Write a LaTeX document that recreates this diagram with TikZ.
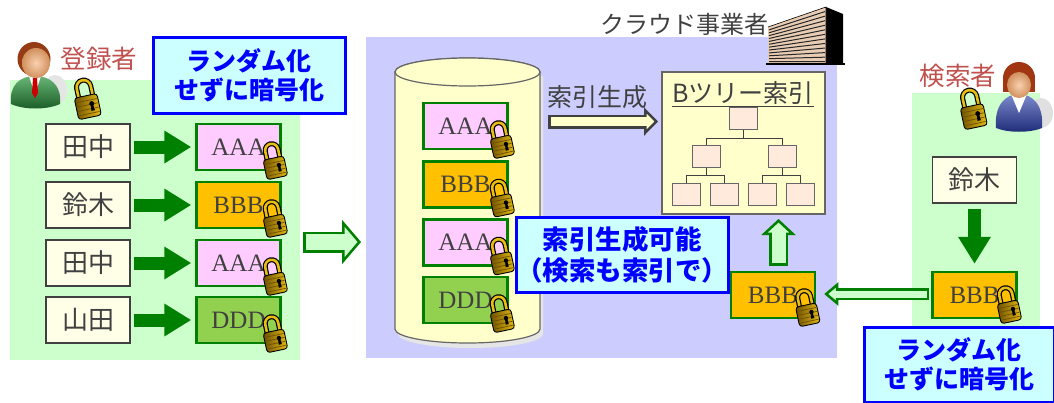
\documentclass[tikz,border=0pt]{standalone}
\usepackage{fontspec}
\setmainfont{Liberation Serif}
\newfontfamily\jp{Noto Sans CJK JP}
\usetikzlibrary{arrows.meta,positioning,calc}

\definecolor{usergreen}{RGB}{204,255,204}
\definecolor{cloudblue}{RGB}{204,204,255}
\definecolor{notefill}{RGB}{204,255,255}
\definecolor{noteblue}{RGB}{0,0,255}
\definecolor{namefill}{RGB}{255,255,232}
\definecolor{arrowgreen}{RGB}{0,128,0}
\definecolor{palegreen}{RGB}{204,255,204}
\definecolor{cipherpink}{RGB}{255,204,255}
\definecolor{cipherorange}{RGB}{255,192,0}
\definecolor{cipherlime}{RGB}{146,208,80}
\definecolor{dbyellow}{RGB}{255,255,204}
\definecolor{treefill}{RGB}{255,234,220}
\definecolor{rolered}{RGB}{192,80,77}
\definecolor{inkgray}{RGB}{64,64,64}
\definecolor{facade}{RGB}{232,205,180}
\definecolor{lockgold}{RGB}{232,190,20}
\definecolor{lockyellow}{RGB}{255,240,120}
\definecolor{lockdark}{RGB}{110,80,0}
\definecolor{skin}{RGB}{245,170,110}
\definecolor{hairbrown}{RGB}{150,60,20}
\definecolor{suitgreen}{RGB}{40,150,60}
\definecolor{suitblue}{RGB}{40,60,170}

\tikzset{
  % small padlock drawn over each encrypted value
  padlock/.pic={
    \draw[line width=5pt, black] (-6.5,0) -- (-6.5,-10) arc[start angle=180, end angle=360, radius=6.5] -- (6.5,0);
    \draw[line width=2.6pt, lockgold] (-6.5,0) -- (-6.5,-10) arc[start angle=180, end angle=360, radius=6.5] -- (6.5,0);
    \shade[left color=lockdark, middle color=lockyellow, right color=lockgold, rounded corners=3pt] (-10.5,-2) rectangle (10.5,18);
    \draw[black, line width=0.9pt, rounded corners=3pt] (-10.5,-2) rectangle (10.5,18);
    \foreach \r in {2.5,6.5,10.5,14.5}
      \draw[lockdark, line width=0.7pt] (-9.5,\r) -- (9.5,\r);
    \fill[black] (4,6) circle[radius=2.2];
    \fill[black] (3,6) -- (5,6) -- (5.6,12.5) -- (2.4,12.5) -- cycle;
  },
  % man in a green suit
  registrant/.pic={
    \fill[black!10] (20,30) ellipse[x radius=12, y radius=15];
    \shade[top color=suitgreen!70!white, bottom color=suitgreen!60!black] (-24,44) .. controls (-26,25) and (-15,16) .. (0,16) .. controls (15,16) and (27,25) .. (25,44) .. controls (12,50) and (-11,50) .. (-24,44) -- cycle;
    \fill[white] (-6,16) -- (6,16) -- (0,34) -- cycle;
    \fill[red!80!black] (-2,18) -- (2,18) -- (3,33) -- (0,38) -- (-3,33) -- cycle;
    \fill[hairbrown] (-1,-1) ellipse[x radius=16.5, y radius=17];
    \shade[inner color=skin!55!white, outer color=skin!85!black] (1,3) ellipse[x radius=14, y radius=15];
  },
  % woman in a blue suit
  searcher/.pic={
    \fill[black!12] (22,31) ellipse[x radius=12, y radius=15];
    \shade[top color=suitblue!60!white, bottom color=suitblue!70!black] (-23,46) .. controls (-25,24) and (-14,12) .. (0,12) .. controls (14,12) and (25,24) .. (23,46) .. controls (11,51) and (-11,51) .. (-23,46) -- cycle;
    \fill[white] (-8,12) -- (8,12) -- (0,31) -- cycle;
    \fill[hairbrown!90!red] (0,-4) ellipse[x radius=16, y radius=16];
    \fill[hairbrown!90!red] (-16,-4) rectangle (16,10);
    \shade[inner color=skin!55!white, outer color=skin!85!black] (0,3) ellipse[x radius=12, y radius=13];
  }
}

\begin{document}
\begin{tikzpicture}[x=1pt,y=-1pt,
    region/.style={anchor=north west, inner sep=0pt, outer sep=0pt},
    namebox/.style={draw=inkgray, line width=1.2pt, fill=namefill, minimum width=84pt, minimum height=46pt, inner sep=0pt, text=inkgray, font=\jp\fontsize{26}{28}\selectfont},
    cipher/.style={draw=arrowgreen, line width=2.5pt, minimum width=84pt, minimum height=46pt, inner sep=0pt, text=inkgray, font=\fontsize{25}{28}\selectfont},
    treenode/.style={draw=inkgray!80, line width=1pt, fill=treefill, minimum width=28pt, minimum height=22pt, inner sep=0pt},
    note/.style={region, draw=noteblue, line width=3pt, fill=notefill, text=noteblue, align=center, font=\jp\bfseries\fontsize{25}{29}\selectfont},
    caption/.style={text=inkgray, font=\jp\fontsize{24}{28}\selectfont},
    role/.style={text=rolered, font=\jp\fontsize{25.5}{28}\selectfont},
    solidarrow/.style={draw=arrowgreen, line width=13pt, -{Triangle[length=27pt,width=31pt]}, shorten <=3pt, shorten >=4pt},
    hollowarrow/.style n args={5}{draw=#1, line width=#3, -{Triangle[length=#5,width=#4,fill=#2,line width=2.5pt]},
      postaction={draw=#2, line width=#3-5pt, -, shorten <=2.5pt, shorten >=#5-3pt}}
  ]
  \useasboundingbox (0,0) rectangle (1054,402);

  % background areas
  \node[region, fill=usergreen, minimum width=290pt, minimum height=280pt] (usr) at (10,80) {};
  \node[region, fill=cloudblue, minimum width=471pt, minimum height=321pt] (cloud) at (366,37) {};
  \node[region, fill=usergreen, minimum width=128pt, minimum height=235pt] (srch) at (912,93) {};

  % office building
  \fill[black] (826,7) -- (843,14) -- (843,64) -- (826,64) -- cycle;
  \fill[facade] (768,27) -- (826,7) -- (826,64) -- (768,64) -- cycle;
  \foreach \t in {0.08,0.16,...,0.97}
    \draw[black!85, line width=1pt] (769,27+36*\t) -- (825,7+57*\t);
  \draw[black, line width=0.6pt] (768,27) -- (826,7) -- (826,64);
  \draw[black, line width=1.4pt] (766,64) -- (845,64);
  \node[caption] (cloudname) at (684,24) {クラウド事業者};

  % registering user
  \pic at (35,60) {registrant};
  \node[role] (regname) at (99,59) {登録者};
  \pic[rotate=12, scale=1.1] at (86,98) {padlock};
  \node[namebox] (n1) at (88,147) {田中};
  \node[namebox] (n2) at (88,205) {鈴木};
  \node[namebox] (n3) at (88,263) {田中};
  \node[namebox] (n4) at (88,320) {山田};
  \node[cipher, fill=cipherpink] (c1) at (238.5,147) {AAA};
  \node[cipher, fill=cipherorange] (c2) at (238.5,205) {BBB};
  \node[cipher, fill=cipherpink] (c3) at (238.5,263) {AAA};
  \node[cipher, fill=cipherlime] (c4) at (238.5,320) {DDD};
  \foreach \i in {1,...,4} {
    \draw[solidarrow] (n\i.east) -- (c\i.west);
    \pic[rotate=12] at ($(c\i.east)+(-8,13)$) {padlock};
  }
  \coordinate (feed) at (0,242);
  \draw[hollowarrow={arrowgreen}{palegreen}{21pt}{44pt}{19pt}] ($(usr.east |- feed)+(3,0)$) -- ($(cloud.west |- feed)+(-5,0)$);

  % encrypted storage
  \fill[black!10] (398,76) -- (398,334) arc[start angle=180, end angle=0, x radius=72.5, y radius=14] -- (543,76) -- cycle;
  \draw[fill=dbyellow, draw=inkgray!80, line width=1.2pt] (395,72) -- (395,329) arc[start angle=180, end angle=0, x radius=72.5, y radius=14] -- (540,72) arc[start angle=0, end angle=-180, x radius=72.5, y radius=14] -- cycle;
  \draw[fill=dbyellow, draw=inkgray!80, line width=1.2pt] (467.5,72) ellipse[x radius=72.5, y radius=14];
  \node[cipher, fill=cipherpink] (d1) at (465.5,126) {AAA};
  \node[cipher, fill=cipherorange] (d2) at (465.5,184.5) {BBB};
  \node[cipher, fill=cipherpink] (d3) at (465.5,242.5) {AAA};
  \node[cipher, fill=cipherlime] (d4) at (465.5,300) {DDD};
  \foreach \i in {1,...,4}
    \pic[rotate=12] at ($(d\i.east)+(-8,13)$) {padlock};

  % B-tree index
  \node[region, draw=inkgray!80, line width=1.2pt, fill=dbyellow, minimum width=163pt, minimum height=142pt] (btree) at (662,72) {};
  \node[caption, font=\jp\fontsize{25}{28}\selectfont] (btitle) at (743,94) {\underline{Bツリー索引}};
  \node[treenode] (root) at (743.5,118) {};
  \node[treenode] (mid1) at (706,156) {};
  \node[treenode] (mid2) at (782,156) {};
  \node[treenode] (leaf1) at (686,194) {};
  \node[treenode] (leaf2) at (724,194) {};
  \node[treenode] (leaf3) at (762,194) {};
  \node[treenode] (leaf4) at (800,194) {};
  \draw[inkgray, line width=1pt] (root.south) -- ++(0,9) -| (mid1.north) (root.south) -- ++(0,9) -| (mid2.north);
  \foreach \m/\a/\b in {mid1/leaf1/leaf2, mid2/leaf3/leaf4}
    \draw[inkgray, line width=1pt] (\m.south) -- ++(0,8) -| (\a.north) (\m.south) -- ++(0,8) -| (\b.north);
  \node[caption, font=\jp\fontsize{25}{28}\selectfont] (idxlabel) at (597,97) {索引生成};
  \coordinate (idxtail) at (548,121.5);
  \draw[hollowarrow={inkgray}{dbyellow}{14pt}{28pt}{14pt}] (idxtail) -- ($(btree.west |- idxtail)+(-4,0)$);

  \node[note, minimum width=201pt, minimum height=75pt, font=\jp\bfseries\fontsize{26.5}{31}\selectfont] (noteM) at (516,217) {索引生成可能\\（検索も索引で）};

  % query side
  \node[cipher, fill=cipherorange] (k) at (773,295) {BBB};
  \pic[rotate=12] at ($(k.east)+(-10,12)$) {padlock};
  \draw[hollowarrow={arrowgreen}{palegreen}{19pt}{34pt}{16pt}] ($(k.north)+(5.5,-5)$) -- ($(k.north |- btree.south)+(5.5,5)$);

  % searching user
  \pic at (1019,82) {searcher};
  \node[role] (srchname) at (958,76) {検索者};
  \pic[rotate=12, scale=1.1] at (972,108) {padlock};
  \node[namebox] (q) at (974.5,180) {鈴木};
  \node[cipher, fill=cipherorange] (qc) at (974.5,295) {BBB};
  \pic[rotate=12] at ($(qc.east)+(-10,9)$) {padlock};
  \draw[solidarrow, shorten <=5pt, shorten >=7pt] (q.south) -- (qc.north);
  \draw[hollowarrow={arrowgreen}{palegreen}{12pt}{23pt}{14pt}] ($(qc.west)+(-2,-1)$) -- ($(k.east)+(8,-1)$);

  % remarks
  \node[note, minimum width=192pt, minimum height=76pt] (noteL) at (153,37) {ランダム化\\せずに暗号化};
  \node[note, minimum width=190pt, minimum height=75pt] (noteR) at (864,327) {ランダム化\\せずに暗号化};
\end{tikzpicture}
\end{document}
